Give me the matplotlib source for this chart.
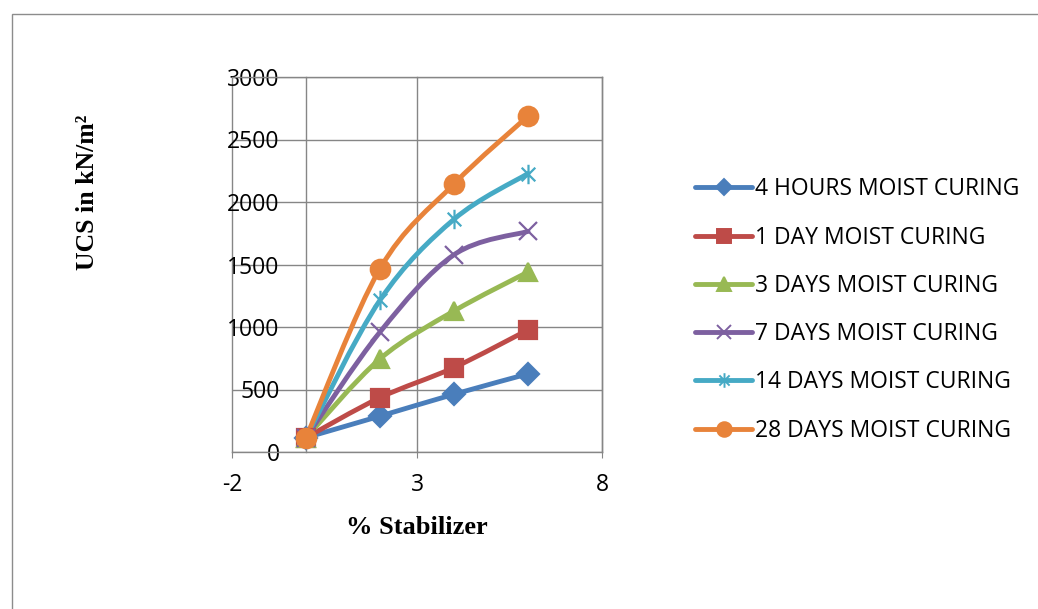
import numpy as np
import matplotlib
matplotlib.use("Agg")
import matplotlib.pyplot as plt
from matplotlib.path import Path
from matplotlib.patches import PathPatch, Rectangle
from matplotlib.lines import Line2D

plt.rcParams["axes.unicode_minus"] = False

# data
stabilizer = [0, 2, 4, 6]
series_names = ["4 HOURS MOIST CURING", "1 DAY MOIST CURING", "3 DAYS MOIST CURING",
                "7 DAYS MOIST CURING", "14 DAYS MOIST CURING", "28 DAYS MOIST CURING"]
ucs_4h = [115, 287, 462, 625]
ucs_1d = [115, 435, 676, 977]
ucs_3d = [115, 745, 1128, 1440]
ucs_7d = [115, 960, 1578, 1765]
ucs_14d = [115, 1215, 1862, 2228]
ucs_28d = [115, 1467, 2145, 2687]
all_series = [ucs_4h, ucs_1d, ucs_3d, ucs_7d, ucs_14d, ucs_28d]

colors = ["#4A7EBB", "#BE4B48", "#98B954", "#7D60A0", "#46AAC5", "#E8833A"]

# excel style "star" marker: x plus vertical bar
star = Path([(0, -1), (0, 1), (-0.7, -0.7), (0.7, 0.7), (-0.7, 0.7), (0.7, -0.7)],
            [Path.MOVETO, Path.LINETO, Path.MOVETO, Path.LINETO, Path.MOVETO, Path.LINETO])
markers = ["D", "s", "^", "x", star, "o"]
msizes = [11, 13, 13, 13, 14, 14]


def smooth_path(xs, ys):
    # bezier through the points, like excel's smoothed line
    pts = np.column_stack([xs, ys]).astype(float)
    n = len(pts)
    verts = [pts[0]]
    codes = [Path.MOVETO]
    for i in range(n - 1):
        p0 = pts[max(i - 1, 0)]
        p1 = pts[i]
        p2 = pts[i + 1]
        p3 = pts[min(i + 2, n - 1)]
        verts += [p1 + (p2 - p0) / 6, p2 - (p3 - p1) / 6, p2]
        codes += [Path.CURVE4] * 3
    return Path(verts, codes)


fig = plt.figure(figsize=(10.38, 6.09), dpi=100)
fig.patches.append(Rectangle((12 / 1038, -0.05), 1.1, 1.05 - 14 / 609, transform=fig.transFigure,
                             fill=False, edgecolor="#8c8c8c", lw=1.0))

ax = fig.add_axes([232 / 1038, 1 - 452 / 609, 370 / 1038, 375 / 609])
ax.set_xlim(-2, 8)
ax.set_ylim(0, 3000)
ax.set_xticks([-2, 3, 8])
ax.set_yticks(range(0, 3001, 500))
ax.grid(True, color="#868686", lw=1.0)
for gl in ax.xaxis.get_gridlines():
    gl.set_clip_on(False)
ax.set_axisbelow(True)
for s in ax.spines.values():
    s.set_color("#868686")
    s.set_linewidth(1.0)
ax.spines["left"].set_position(("data", 0))

ax.tick_params(axis="y", length=0, pad=19)
ax.tick_params(axis="x", length=4, color="#868686", pad=11)
for lab in ax.get_xticklabels() + ax.get_yticklabels():
    lab.set_fontfamily("Open Sans")
    lab.set_fontsize(16.5)

handles = []
for vals, name, c, m, ms in zip(all_series, series_names, colors, markers, msizes):
    ax.add_patch(PathPatch(smooth_path(stabilizer, vals), fill=False, edgecolor=c, lw=3.5,
                           capstyle="round", joinstyle="round", zorder=3))
    ax.plot(stabilizer, vals, ls="none", marker=m, ms=ms, color=c, mec=c, mew=1.6, zorder=4)
    handles.append(Line2D([], [], color=c, lw=3.5, marker=m, ms=ms * 0.75, mec=c, mew=1.4,
                          solid_capstyle="round"))

fig.legend(handles, series_names, loc="center left", bbox_to_anchor=(695 / 1038, 1 - 310 / 609),
           frameon=False, prop={"family": "Open Sans", "size": 16.5}, handlelength=2.5,
           handletextpad=0.1, labelspacing=1.06, borderaxespad=0, borderpad=0)

fig.text(417 / 1038, 1 - 527 / 609, "% Stabilizer", ha="center", va="center",
         family="Liberation Serif", weight="bold", size=19)
fig.text(88 / 1038, 1 - 192 / 609, "UCS in kN/m²", ha="center", va="center", rotation=90,
         family="Liberation Serif", weight="bold", size=18.5)

fig.savefig("out.png", dpi=100)
